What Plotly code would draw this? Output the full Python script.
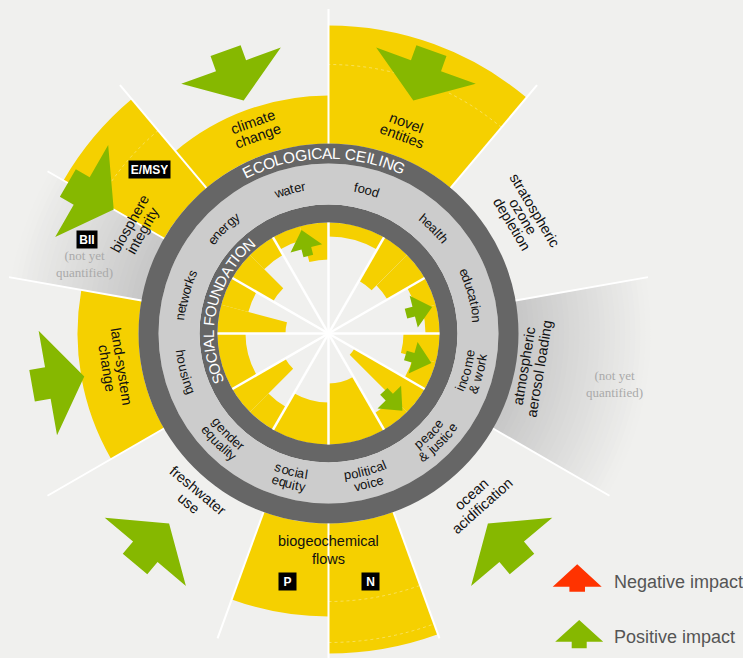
import math
import plotly.graph_objects as go

W, H = 743, 658
CX, CY = 328.5, 333.5          # doughnut centre (px)
RMAX = 324.5                   # radial axis max == px radius of polar area

BG = "#f0f0ee"
YELLOW = "#f5d000"
DARK = "#666666"
LIGHT = "#cccccc"
GREEN = "#86b800"
RED = "#ff3300"
INK = "#111111"
FONT = "Liberation Sans, Arial, Helvetica, sans-serif"
SERIF = "Liberation Serif, DejaVu Serif, serif"

# ---------------- data ----------------
# radial scale: social foundation at 111, ecological ceiling at 190
FOUNDATION = 111
INNER_RING = [111, 129]
LABEL_BAND = [129, 170]
CEILING_RING = [170, 190]
CEILING = 190

social_labels = ["education", "health", "food", "water", "energy", "networks",
                 "housing", "gender\nequality", "social\nequity", "political\nvoice",
                 "peace\n& justice", "income\n& work"]
social_centre = [15, 45, 75, 105, 135, 165, 195, 225, 255, 285, 315, 345]
# achieved level (radial units) of each indicator, indicators ordered by increasing angle
social_achieved = [[97, 91], [68, 61], [97], [74, 97], [91, 64], [83, 43],
                   [83], [50, 85], [69], [50], [92, 30], [88, 75]]
SECTOR_WIDTH = 30

eco_keys = ["stratospheric ozone depletion", "novel entities", "climate change", "E/MSY", "BII",
            "land-system change", "freshwater use", "P", "N", "ocean acidification",
            "atmospheric aerosol loading"]
eco_start = [10, 50, 90, 130, 150, 170, 210, 250, 270, 290, 330]
eco_end = [50, 90, 130, 150, 170, 210, 250, 270, 290, 330, 370]
eco_outer = [190, 308, 238, 306, None, 251, 190, 283, 320, 190, None]   # None = not yet quantified
eco_zone_lines = [[], [269], [], [265], [], [], [], [], [268, 309], [], []]
SEP_OUTER = 326

eco_label_text = ["novel\nentities", "climate\nchange", "biosphere\nintegrity", "land-system\nchange",
                  "freshwater\nuse", "biogeochemical\nflows", "ocean\nacidification",
                  "atmospheric\naerosol loading", "stratospheric\nozone\ndepletion"]
eco_label_r = [217.5, 217.4, 219.5, 217, 212, 216.5, 223, 206, 227]
eco_label_theta = [69.6, 109.7, 150.9, 188.9, 230.4, 270, 311.7, 350.5, 30.9]
eco_label_spacing = [14.5, 14.5, 14.5, 15, 16, 18, 15, 15, 13]

box_text = ["E/MSY", "BII", "P", "N"]
box_r = [242.3, 259.6, 250.8, 251.1]
box_theta = [137.5, 158.7, 260.7, 279.7]

nq_r = [253.2, 290.9]
nq_theta = [164.1, 350.0]

eco_arrow_theta = [110, 70, 150, 190, 230, 310]
eco_arrow_r = 285
social_arrow_theta = [104.6, 14.4, 344, 313.7]
social_arrow_r = 88

legend_text = ["Negative impact", "Positive impact"]
legend_color = [RED, GREEN]

# ---------------- helpers ----------------
AW = {' ': 278, '&': 667, '-': 333, '/': 278,
      'a': 556, 'b': 556, 'c': 500, 'd': 556, 'e': 556, 'f': 278, 'g': 556, 'h': 556, 'i': 222,
      'j': 222, 'k': 500, 'l': 222, 'm': 833, 'n': 556, 'o': 556, 'p': 556, 'q': 556, 'r': 333,
      's': 500, 't': 278, 'u': 556, 'v': 500, 'w': 722, 'x': 500, 'y': 500, 'z': 500,
      'A': 667, 'B': 667, 'C': 722, 'D': 722, 'E': 667, 'F': 611, 'G': 778, 'H': 722, 'I': 278,
      'J': 500, 'K': 667, 'L': 556, 'M': 833, 'N': 722, 'O': 778, 'P': 667, 'Q': 778, 'R': 722,
      'S': 667, 'T': 611, 'U': 722, 'V': 667, 'W': 944, 'X': 667, 'Y': 667, 'Z': 611}


def px_to_paper(x, y):
    return x / W, 1 - y / H


def polar_to_px(r, theta):
    a = math.radians(theta)
    return CX + r * math.cos(a), CY - r * math.sin(a)


def norm_angle(a):
    return (a + 180) % 360 - 180


annotations = []


def add_text(x_px, y_px, text, size, color, angle=0, family=FONT, **kw):
    x, y = px_to_paper(x_px, y_px)
    annotations.append(dict(x=x, y=y, xref="paper", yref="paper", text=text, showarrow=False,
                            xanchor=kw.pop("xanchor", "center"), yanchor="middle",
                            textangle=norm_angle(angle),
                            font=dict(size=size, color=color, family=family), **kw))


def curved_text(text, r, theta_c, size, color, cw=True):
    total = sum(AW.get(c, 556) for c in text) * size / 1000.0
    span = total / r
    a0 = math.radians(theta_c)
    start = a0 + span / 2 if cw else a0 - span / 2
    sgn = -1 if cw else 1
    pos = 0.0
    for ch in text:
        w = AW.get(ch, 556) * size / 1000.0
        a = start + sgn * (pos + w / 2) / r
        pos += w
        if ch == ' ':
            continue
        deg = math.degrees(a)
        rot = 90 - deg if cw else -90 - deg
        x, y = CX + r * math.cos(a), CY - r * math.sin(a)
        add_text(x, y, "&amp;" if ch == "&" else ch, size, color, rot)


def straight_lines(lines, r, theta, size, spacing, color=INK):
    cw = 0 < (theta % 360) < 180
    a = math.radians(theta)
    rot = 90 - theta if cw else -90 - theta
    up = (math.cos(a), math.sin(a)) if cw else (-math.cos(a), -math.sin(a))
    n = len(lines)
    for i, line in enumerate(lines):
        off = ((n - 1) / 2 - i) * spacing
        xu = r * math.cos(a) + off * up[0]
        yu = r * math.sin(a) + off * up[1]
        add_text(CX + xu, CY - yu, line.replace("&", "&amp;"), size, color, rot)


def arrow_local(hw, hl, sw, sl):
    return [(-hw, 0), (0, hl), (hw, 0), (sw, 0), (sw, -sl), (-sw, -sl), (-sw, 0), (-hw, 0)]


def polar_arrow(r, theta, inward, hw, hl, sw, sl):
    a = math.radians(theta)
    ax, ay = r * math.cos(a), r * math.sin(a)
    d = (-math.cos(a), -math.sin(a)) if inward else (math.cos(a), math.sin(a))
    t = (-d[1], d[0])
    rr, tt = [], []
    for u, v in arrow_local(hw, hl, sw, sl):
        x = ax + u * t[0] + v * d[0]
        y = ay + u * t[1] + v * d[1]
        rr.append(math.hypot(x, y))
        tt.append(math.degrees(math.atan2(y, x)))
    return rr, tt


# ---------------- figure ----------------
fig = go.Figure()

# not-yet-quantified gradient sectors
steps = 26
g_theta, g_width, g_base, g_r, g_col = [], [], [], [], []
for k, outer in enumerate(eco_outer):
    if outer is not None:
        continue
    for i in range(steps):
        ro = CEILING + (322 - CEILING) * (steps - i) / steps
        t = (ro - CEILING - (322 - CEILING) / steps / 2) / (322 - CEILING)
        t = max(0.0, min(1.0, t))
        c_rg = round(199 + (240 - 199) * t)
        c_b = round(199 + (238 - 199) * t)
        g_theta.append((eco_start[k] + eco_end[k]) / 2)
        g_width.append(eco_end[k] - eco_start[k])
        g_base.append(CEILING)
        g_r.append(ro - CEILING)
        g_col.append(f"rgb({c_rg},{c_rg},{c_b})")
fig.add_trace(go.Barpolar(theta=g_theta, width=g_width, base=g_base, r=g_r,
                          marker=dict(color=g_col, line=dict(width=0)), hoverinfo="skip"))

# ecological overshoot
e_theta, e_width, e_r = [], [], []
for k, outer in enumerate(eco_outer):
    if outer is None or outer <= CEILING:
        continue
    e_theta.append((eco_start[k] + eco_end[k]) / 2)
    e_width.append(eco_end[k] - eco_start[k])
    e_r.append(outer - CEILING)
fig.add_trace(go.Barpolar(theta=e_theta, width=e_width, base=[CEILING] * len(e_r), r=e_r,
                          marker=dict(color=YELLOW, line=dict(width=0)), hoverinfo="skip"))

# social shortfall
s_theta, s_width, s_base, s_r = [], [], [], []
for c, vals in zip(social_centre, social_achieved):
    sub = SECTOR_WIDTH / len(vals)
    st = c - SECTOR_WIDTH / 2
    for j, v in enumerate(vals):
        s_theta.append(st + (j + 0.5) * sub)
        s_width.append(sub)
        s_base.append(v)
        s_r.append(FOUNDATION - v)
fig.add_trace(go.Barpolar(theta=s_theta, width=s_width, base=s_base, r=s_r,
                          marker=dict(color=YELLOW, line=dict(width=0)), hoverinfo="skip"))

# rings
rings = [INNER_RING, LABEL_BAND, CEILING_RING]
ring_cols = [DARK, LIGHT, DARK]
fig.add_trace(go.Barpolar(theta=[0, 0, 0], width=[360, 360, 360],
                          base=[rg[0] for rg in rings], r=[rg[1] - rg[0] for rg in rings],
                          marker=dict(color=ring_cols, line=dict(width=0)), hoverinfo="skip"))

# faint zone lines inside overshoot wedges
for k, lines in enumerate(eco_zone_lines):
    for rz in lines:
        th = [eco_start[k] + (eco_end[k] - eco_start[k]) * i / 40 for i in range(41)]
        fig.add_trace(go.Scatterpolar(r=[rz] * len(th), theta=th, mode="lines",
                                      line=dict(color="rgba(255,255,255,0.35)", width=1, dash="dot"),
                                      hoverinfo="skip"))

# separator lines
sep_angles = sorted(set(a % 360 for a in eco_start))
lr, lt = [], []
for a in sep_angles:
    lr += [CEILING, SEP_OUTER, None]
    lt += [a, a, None]
fig.add_trace(go.Scatterpolar(r=lr, theta=lt, mode="lines", line=dict(color="white", width=2),
                              hoverinfo="skip"))
ir, it = [], []
for c in social_centre:
    a = c - SECTOR_WIDTH / 2
    ir += [0, FOUNDATION, None]
    it += [a, a, None]
fig.add_trace(go.Scatterpolar(r=ir, theta=it, mode="lines", line=dict(color="white", width=2.5),
                              hoverinfo="skip"))

# impact arrows
for th in eco_arrow_theta:
    rr, tt = polar_arrow(eco_arrow_r, th, True, 53, 37, 16, 16)
    fig.add_trace(go.Scatterpolar(r=rr, theta=tt, mode="lines", fill="toself", fillcolor=GREEN,
                                  line=dict(width=0, color=GREEN), hoverinfo="skip"))
for th in social_arrow_theta:
    rr, tt = polar_arrow(social_arrow_r, th, False, 16.3, 19, 5, 8)
    fig.add_trace(go.Scatterpolar(r=rr, theta=tt, mode="lines", fill="toself", fillcolor=GREEN,
                                  line=dict(width=0, color=GREEN), hoverinfo="skip"))

# ---------------- text ----------------
curved_text("ECOLOGICAL CEILING", 180.5, 91.5, 15.5, "white", cw=True)
curved_text("SOCIAL FOUNDATION", 120, 167, 15, "white", cw=True)

for lab, c in zip(social_labels, social_centre):
    lines = lab.split("\n")
    cw = 0 < c < 180
    n = len(lines)
    for i, line in enumerate(lines):
        off = ((n - 1) / 2 - i) * 13
        r = 149 + off if cw else 149 - off
        curved_text(line, r, c, 13, INK, cw=cw)

for txt, r, th, sp in zip(eco_label_text, eco_label_r, eco_label_theta, eco_label_spacing):
    straight_lines(txt.split("\n"), r, th, 14.5, sp)

for txt, r, th in zip(box_text, box_r, box_theta):
    x, y = polar_to_px(r, th)
    xp, yp = px_to_paper(x, y)
    n = len(txt)
    bw = 37 if n > 3 else (16 if n == 3 else 13)
    annotations.append(dict(x=xp, y=yp, xref="paper", yref="paper", text=f"<b>{txt}</b>",
                            showarrow=False, xanchor="center", yanchor="middle",
                            bgcolor="black", borderpad=2, width=bw, height=13,
                            font=dict(size=12, color="white", family=FONT)))

for r, th in zip(nq_r, nq_theta):
    x, y = polar_to_px(r, th)
    add_text(x, y, "(not yet<br>quantified)", 13, "#aaaaaa", family=SERIF)

# legend
shapes = []
legend_anchor = [(577.2, 586.7), (579.2, 641.7)]
legend_dims = [(24.5, 22.4, 7.8, 5.0), (24.0, 21.7, 7.5, 6.6)]
for (ax, ay), (hw, hl, sw, sl), col, txt in zip(legend_anchor, legend_dims, legend_color, legend_text):
    pts = [px_to_paper(ax + u, ay - v) for u, v in arrow_local(hw, hl, sw, sl)]
    path = "M " + " L ".join(f"{px:.5f},{py:.5f}" for px, py in pts) + " Z"
    shapes.append(dict(type="path", path=path, xref="paper", yref="paper", fillcolor=col,
                       line=dict(width=0), layer="above"))
    add_text(611.5, ay - 5, txt, 18, "#555555", xanchor="left")

fig.update_layout(
    width=W, height=H, margin=dict(l=0, r=0, t=0, b=0),
    paper_bgcolor=BG, plot_bgcolor=BG, showlegend=False,
    polar=dict(
        domain=dict(x=[0, 2 * CX / W], y=[0, 2 * (H - CY) / H]),
        bgcolor="rgba(0,0,0,0)", bargap=0, barmode="overlay", hole=0,
        radialaxis=dict(range=[0, RMAX], visible=False, showgrid=False, showline=False,
                        showticklabels=False, ticks=""),
        angularaxis=dict(visible=False, rotation=0, direction="counterclockwise",
                         showgrid=False, showline=False, showticklabels=False, ticks=""),
    ),
    annotations=annotations, shapes=shapes,
)

fig.write_html("out.html", config={"displayModeBar": False},
               post_script="document.body.style.margin='0';document.body.style.overflow='hidden';"
                           "document.body.style.background='" + BG + "';")
